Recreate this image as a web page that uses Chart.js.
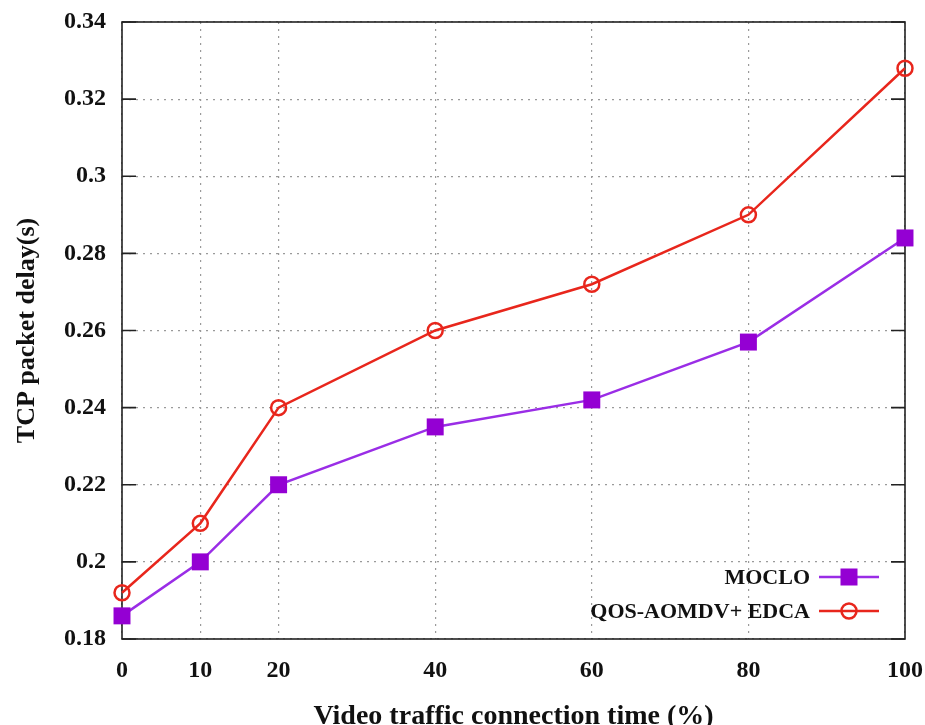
<!DOCTYPE html>
<html>
<head>
<meta charset="utf-8">
<script src="https://cdn.jsdelivr.net/npm/chart.js@4.4.0/dist/chart.umd.min.js"></script>
<style>
  html, body { margin: 0; padding: 0; background: #ffffff; }
  canvas { display: block; }
</style>
</head>
<body>
<canvas id="delayChart" width="925" height="725"></canvas>
<script>
// Video traffic connection time (%) on the x axis
const connectionTime = [0, 10, 20, 40, 60, 80, 100];
const xTickValues = [0, 10, 20, 40, 60, 80, 100];
const yTickValues = [0.18, 0.20, 0.22, 0.24, 0.26, 0.28, 0.30, 0.32, 0.34];

// TCP packet delay (s) per protocol
const seriesNames = ['MOCLO', 'QOS-AOMDV+ EDCA'];
const mocloDelay = [0.186, 0.200, 0.220, 0.235, 0.242, 0.257, 0.284];
const qosAomdvEdcaDelay = [0.192, 0.210, 0.240, 0.260, 0.272, 0.290, 0.328];

const serif = '"Liberation Serif", "Times New Roman", Times, serif';
const purpleLine = '#9a2de6';
const purpleMark = '#9400d3';
const redLine = '#e8261c';

const toPoints = (xs, ys) => xs.map((x, i) => ({ x: x, y: ys[i] }));

// Let the layout padding alone decide the plot edges
const noLabelOverhang = scale => {
  scale.paddingTop = 0;
  scale.paddingBottom = 0;
  scale.paddingLeft = 0;
  scale.paddingRight = 0;
};

// Closed frame around the plot plus short inward ticks on both y sides
const framePlugin = {
  id: 'frame',
  beforeDatasetsDraw(chart) {
    const { ctx, chartArea: a, scales } = chart;
    ctx.save();
    ctx.strokeStyle = '#222';
    ctx.lineWidth = 1.6;
    ctx.strokeRect(a.left, a.top, a.right - a.left, a.bottom - a.top);
    ctx.beginPath();
    yTickValues.forEach(v => {
      const y = scales.y.getPixelForValue(v);
      ctx.moveTo(a.left, y); ctx.lineTo(a.left + 14, y);
      ctx.moveTo(a.right, y); ctx.lineTo(a.right - 14, y);
    });
    ctx.stroke();
    ctx.restore();
  }
};

// Key drawn inside the plot, text right-aligned before each line sample
const keyPlugin = {
  id: 'insideKey',
  afterDatasetsDraw(chart) {
    const { ctx } = chart;
    const rows = [
      { y: 577, label: seriesNames[0], color: purpleLine, mark: purpleMark, style: 'rect' },
      { y: 611, label: seriesNames[1], color: redLine, mark: redLine, style: 'circle' }
    ];
    ctx.save();
    ctx.font = 'bold 22px ' + serif;
    ctx.textAlign = 'right';
    ctx.textBaseline = 'middle';
    rows.forEach(r => {
      ctx.fillStyle = '#111';
      ctx.fillText(r.label, 810, r.y + 1);
      ctx.strokeStyle = r.color;
      ctx.lineWidth = 2.5;
      ctx.beginPath();
      ctx.moveTo(819, r.y); ctx.lineTo(879, r.y);
      ctx.stroke();
      if (r.style === 'rect') {
        ctx.fillStyle = r.mark;
        ctx.fillRect(849 - 8.5, r.y - 8.5, 17, 17);
      } else {
        ctx.strokeStyle = r.mark;
        ctx.beginPath();
        ctx.arc(849, r.y, 7.5, 0, Math.PI * 2);
        ctx.stroke();
      }
    });
    ctx.restore();
  }
};

const gridDots = {
  color: '#9a9a9a',
  lineWidth: 1.2,
  drawTicks: false
};

new Chart(document.getElementById('delayChart'), {
  type: 'line',
  data: {
    datasets: [
      {
        label: seriesNames[0],
        data: toPoints(connectionTime, mocloDelay),
        borderColor: purpleLine,
        backgroundColor: purpleMark,
        borderWidth: 2.5,
        pointStyle: 'rect',
        pointRadius: 12,
        pointBorderWidth: 0,
        pointBackgroundColor: purpleMark,
        pointBorderColor: purpleMark,
        tension: 0,
        clip: false
      },
      {
        label: seriesNames[1],
        data: toPoints(connectionTime, qosAomdvEdcaDelay),
        borderColor: redLine,
        backgroundColor: 'rgba(0,0,0,0)',
        borderWidth: 2.5,
        pointStyle: 'circle',
        pointRadius: 7.5,
        pointBorderWidth: 2.5,
        pointBackgroundColor: 'rgba(0,0,0,0)',
        pointBorderColor: redLine,
        tension: 0,
        clip: false
      }
    ]
  },
  options: {
    responsive: false,
    animation: false,
    devicePixelRatio: 1,
    layout: { padding: { top: 22, right: 20, left: 0, bottom: 0 } },
    plugins: {
      legend: { display: false },
      tooltip: { enabled: false }
    },
    scales: {
      x: {
        type: 'linear',
        min: 0,
        max: 100,
        afterBuildTicks(scale) { scale.ticks = xTickValues.map(v => ({ value: v })); },
        afterFit(scale) { scale.height = 86; noLabelOverhang(scale); },
        grid: gridDots,
        border: { display: false, dash: [2, 5] },
        ticks: {
          color: '#111',
          padding: 17,
          maxRotation: 0,
          autoSkip: false,
          font: { family: serif, size: 24, weight: 'bold' },
          callback: v => String(v)
        },
        title: {
          display: true,
          text: 'Video traffic connection time (%)',
          color: '#111',
          font: { family: serif, size: 28, weight: 'bold', lineHeight: 1 },
          padding: { top: 0, bottom: -6 }
        }
      },
      y: {
        type: 'linear',
        min: 0.18,
        max: 0.34,
        afterBuildTicks(scale) { scale.ticks = yTickValues.map(v => ({ value: v })); },
        afterFit(scale) { scale.width = 122; noLabelOverhang(scale); },
        grid: gridDots,
        border: { display: false, dash: [2, 5] },
        ticks: {
          color: '#111',
          padding: 16,
          autoSkip: false,
          font: { family: serif, size: 24, weight: 'bold' },
          callback: v => String(parseFloat(Number(v).toFixed(2)))
        },
        title: {
          display: true,
          text: 'TCP packet delay(s)',
          color: '#111',
          font: { family: serif, size: 26, weight: 'bold', lineHeight: 1 },
          padding: { top: 14, bottom: 0 }
        }
      }
    }
  },
  plugins: [framePlugin, keyPlugin]
});
</script>
</body>
</html>
